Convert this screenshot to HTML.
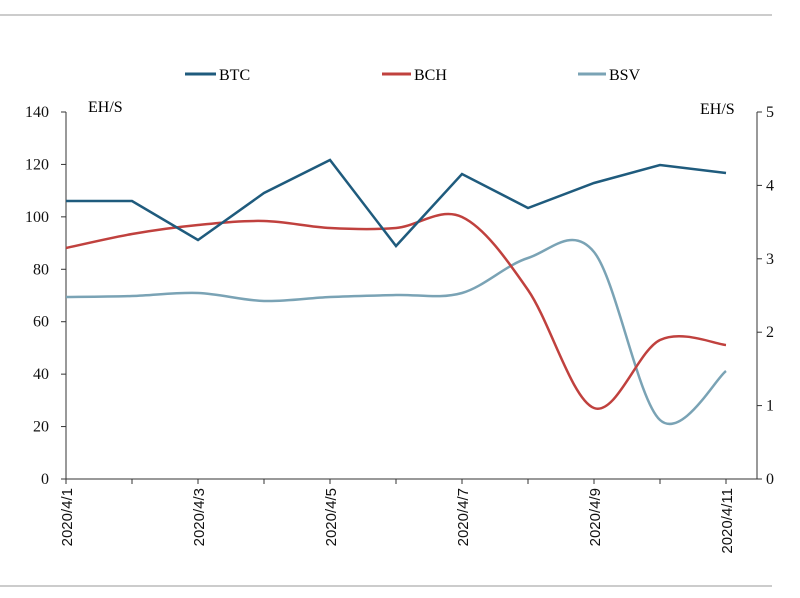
<!DOCTYPE html>
<html><head><meta charset="utf-8"><style>body{margin:0;background:#fff}</style></head>
<body>
<svg id="s" width="800" height="593" xmlns="http://www.w3.org/2000/svg" font-family="Liberation Serif, serif" font-size="16">
<line x1="0" y1="15" x2="772" y2="15" stroke="#bbb" stroke-width="1.5"/>
<line x1="0" y1="586" x2="772" y2="586" stroke="#bbb" stroke-width="1.5"/>
<g stroke="#333" stroke-width="1">
<line x1="66" y1="112" x2="66" y2="479"/>
<line x1="757" y1="112" x2="757" y2="479"/>
<line x1="66" y1="479" x2="757" y2="479"/>
</g>
<g id="ticks" stroke="#333" stroke-width="1"></g>
<g id="lbl" fill="#111"></g>
<text x="88" y="112">EH/S</text>
<text x="700" y="114">EH/S</text>
<g stroke-width="3">
<line x1="185" y1="74" x2="216" y2="74" stroke="#1f5b7d"/>
<line x1="382" y1="74" x2="411" y2="74" stroke="#c0413e"/>
<line x1="578" y1="74" x2="606" y2="74" stroke="#7aa3b5"/>
</g>
<text x="219" y="80">BTC</text><text x="414" y="80">BCH</text><text x="609" y="80">BSV</text>
<path id="bsv" fill="none" stroke="#7aa3b5" stroke-width="2.5"/>
<path id="bch" fill="none" stroke="#c0413e" stroke-width="2.5"/>
<path id="btc" fill="none" stroke="#1f5b7d" stroke-width="2.5"/>
</svg>
<script>
var NS="http://www.w3.org/2000/svg",tk=document.getElementById('ticks'),lb=document.getElementById('lbl');
function el(p,t,a,txt){var e=document.createElementNS(NS,t);for(var k in a)e.setAttribute(k,a[k]);if(txt!=null)e.textContent=txt;p.appendChild(e);}
for(var i=0;i<=7;i++){var y=479-i*52.43;el(tk,'line',{x1:61,y1:y,x2:66,y2:y});el(lb,'text',{x:49,y:y+5,'text-anchor':'end'},i*20);}
for(var i=0;i<=5;i++){var y=479-i*73.4;el(tk,'line',{x1:757,y1:y,x2:762,y2:y});el(lb,'text',{x:766,y:y+5},i);}
var X=function(i){return 66+66*i;};
for(var i=0;i<=10;i++){el(tk,'line',{x1:X(i),y1:479,x2:X(i),y2:484});}
for(var i=0;i<=5;i++){var x=X(2*i)+6;el(lb,'text',{transform:'translate('+x+',488) rotate(-90)','text-anchor':'end','font-family':'Liberation Sans, sans-serif','font-size':'15'},'2020/4/'+(1+2*i));}
var btc=[201,201,240,193,160,246,174,208,183,165,173];
var bch=[248,234,225,221,228,228,217,290,408,340,345];
var bsv=[297,296,293,301,297,295,293,258,252,420,371];
document.getElementById('btc').setAttribute('d',btc.map(function(y,i){return (i?'L':'M')+X(i)+' '+y}).join(''));
function smooth(a){var p=a.map(function(y,i){return[X(i),y]});var d='M'+p[0][0]+' '+p[0][1];
for(var i=0;i<p.length-1;i++){var p0=p[i-1]||p[i],p1=p[i],p2=p[i+1],p3=p[i+2]||p2;
d+='C'+(p1[0]+(p2[0]-p0[0])/6)+' '+(p1[1]+(p2[1]-p0[1])/6)+' '+(p2[0]-(p3[0]-p1[0])/6)+' '+(p2[1]-(p3[1]-p1[1])/6)+' '+p2[0]+' '+p2[1];}return d;}
document.getElementById('bch').setAttribute('d',smooth(bch));
document.getElementById('bsv').setAttribute('d',smooth(bsv));
</script>
</body></html>
